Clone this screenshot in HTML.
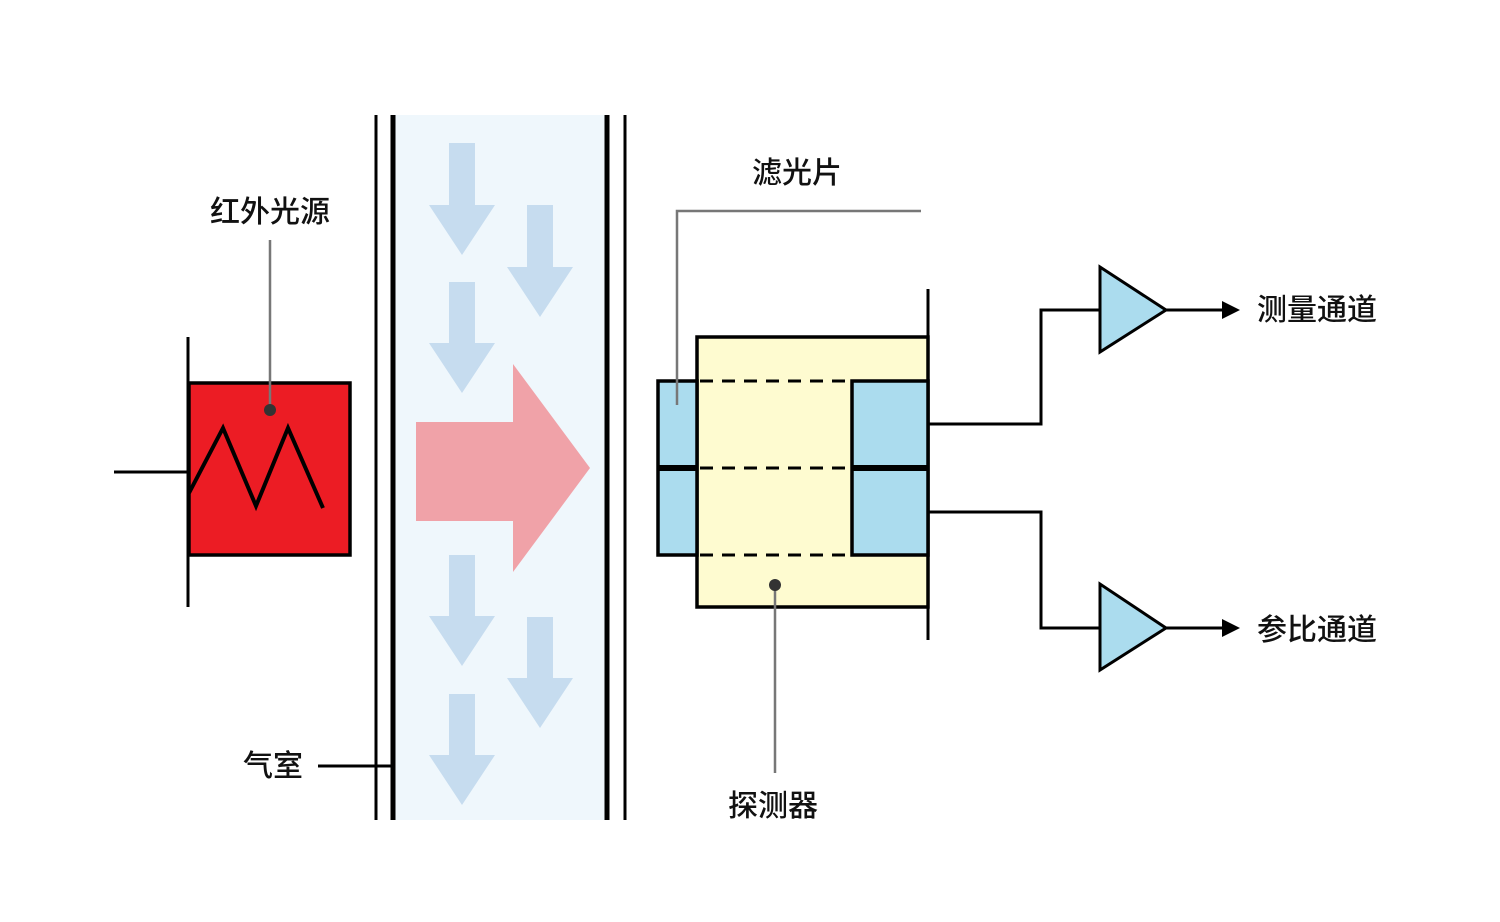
<!DOCTYPE html>
<html><head><meta charset="utf-8"><style>html,body{margin:0;padding:0;background:#fff}svg{display:block}text{font-family:"Liberation Sans","Noto Sans CJK SC",sans-serif;font-size:30px;font-weight:500;fill:#111}</style></head>
<body>
<svg width="1500" height="922" viewBox="0 0 1500 922" xmlns="http://www.w3.org/2000/svg">
<line x1="114" y1="472" x2="189" y2="472" stroke="#000" stroke-width="3"/>
<rect x="189" y="383" width="161" height="172" fill="#ec1c24" stroke="#000" stroke-width="3.5"/>
<line x1="188" y1="337" x2="188" y2="607" stroke="#000" stroke-width="3"/>
<polyline points="189,493 223,428 256,506 288,428 323,508" fill="none" stroke="#000" stroke-width="4"/>
<line x1="270" y1="240" x2="270" y2="410" stroke="#777" stroke-width="2.5"/>
<circle cx="270" cy="410" r="6" fill="#333"/>
<text x="270" y="222" text-anchor="middle">红外光源</text>
<rect x="393" y="115" width="214" height="705" fill="#eff7fc"/>
<line x1="376" y1="115" x2="376" y2="820" stroke="#000" stroke-width="3"/>
<line x1="393" y1="115" x2="393" y2="820" stroke="#000" stroke-width="5"/>
<line x1="607" y1="115" x2="607" y2="820" stroke="#000" stroke-width="5"/>
<line x1="625" y1="115" x2="625" y2="820" stroke="#000" stroke-width="3"/>
<g fill="#c6dcef">
<polygon points="449,143 475,143 475,205 495,205 462,255 429,205 449,205"/>
<polygon points="527,205 553,205 553,267 573,267 540,317 507,267 527,267"/>
<polygon points="449,282 475,282 475,343 495,343 462,393 429,343 449,343"/>
<polygon points="449,555 475,555 475,616 495,616 462,666 429,616 449,616"/>
<polygon points="527,617 553,617 553,678 573,678 540,728 507,678 527,678"/>
<polygon points="449,694 475,694 475,755 495,755 462,805 429,755 449,755"/>
</g>
<polygon points="416,422 513,422 513,364 590,468 513,572 513,521 416,521" fill="#f0a2a8"/>
<line x1="318" y1="766" x2="393" y2="766" stroke="#000" stroke-width="3"/>
<text x="273" y="776" text-anchor="middle">气室</text>
<rect x="697" y="337" width="231" height="270" fill="#fefbd0" stroke="#000" stroke-width="3.5"/>
<rect x="658" y="381" width="39" height="174" fill="#abdcee" stroke="#000" stroke-width="3.5"/>
<rect x="852" y="381" width="76" height="174" fill="#abdcee" stroke="#000" stroke-width="3.5"/>
<line x1="658" y1="468" x2="697" y2="468" stroke="#000" stroke-width="6"/>
<line x1="852" y1="468" x2="928" y2="468" stroke="#000" stroke-width="6"/>
<g stroke="#000" stroke-width="3" stroke-dasharray="13,9">
<line x1="700" y1="381" x2="852" y2="381"/>
<line x1="700" y1="468" x2="852" y2="468"/>
<line x1="700" y1="555" x2="852" y2="555"/>
</g>
<line x1="928" y1="289" x2="928" y2="640" stroke="#000" stroke-width="3"/>
<polyline points="677,405 677,211 921,211" fill="none" stroke="#777" stroke-width="2.5"/>
<text x="797" y="183" text-anchor="middle">滤光片</text>
<line x1="775" y1="585" x2="775" y2="773" stroke="#777" stroke-width="2.5"/>
<circle cx="775" cy="585" r="6" fill="#333"/>
<text x="773" y="816" text-anchor="middle">探测器</text>
<polyline points="928,424 1041,424 1041,310 1100,310" fill="none" stroke="#000" stroke-width="3"/>
<polygon points="1100,267 1100,352 1166,310" fill="#abdcee" stroke="#000" stroke-width="3"/>
<line x1="1166" y1="310" x2="1225" y2="310" stroke="#000" stroke-width="3"/>
<polygon points="1222,301 1240,310 1222,319" fill="#000"/>
<text x="1257" y="320">测量通道</text>
<polyline points="928,512 1041,512 1041,628 1100,628" fill="none" stroke="#000" stroke-width="3"/>
<polygon points="1100,584 1100,670 1166,628" fill="#abdcee" stroke="#000" stroke-width="3"/>
<line x1="1166" y1="628" x2="1225" y2="628" stroke="#000" stroke-width="3"/>
<polygon points="1222,619 1240,628 1222,637" fill="#000"/>
<text x="1257" y="640">参比通道</text>
</svg>
</body></html>
